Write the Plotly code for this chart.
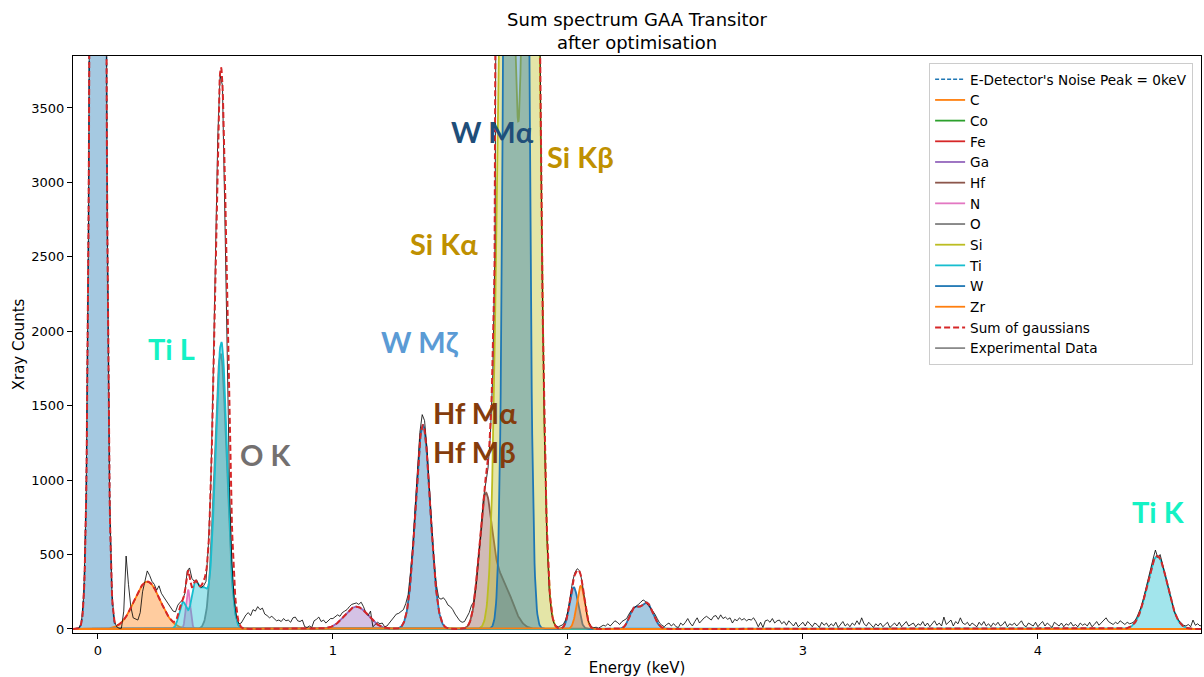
import numpy as np
import plotly.graph_objects as go

# ---------------- data ----------------
E_MIN, E_MAX = -0.106, 4.694

# experimental spectrum: channel energies -0.10 .. 4.70 keV, 0.01 keV step
exp_start = -0.10
exp_step = 0.01
exp_counts = [
    2, 4, 8, 45, 230, 880, 2700, 6500, 12100, 17600,
    20000, 17600, 12100, 6500, 2700, 880, 230, 50, 15, 5,
    5, 120, 490, 300, 150, 75, 65, 60, 110, 250,
    320, 390, 360, 320, 300, 260, 290, 240, 215, 190,
    165, 140, 120, 115, 160, 180, 195, 240, 390, 410,
    340, 320, 330, 290, 280, 290, 320, 560, 950, 1650,
    2500, 3300, 3720, 3650, 2800, 1800, 950, 450, 200, 80,
    35, 40, 70, 95, 110, 90, 130, 120, 150, 130,
    140, 100, 90, 75, 85, 70, 55, 60, 50, 70,
    55, 60, 45, 75, 80, 55, 50, 60, 15, 10,
    20, 10, 55, 65, 80, 50, 60, 40, 55, 70,
    70, 80, 95, 85, 110, 120, 130, 150, 165, 170,
    175, 165, 180, 150, 110, 90, 120, 15, 30, 45,
    35, 40, 15, 20, 40, 60, 85, 100, 105, 115,
    130, 170, 230, 380, 560, 820, 1100, 1320, 1440, 1400,
    1220, 960, 700, 460, 300, 210, 200, 210, 190, 160,
    150, 130, 100, 80, 55, 45, 50, 80, 110, 160,
    180, 300, 470, 650, 870, 980, 1080, 1300, 1700, 2600,
    4200, 6400, 9500, 13000, 19000, 26000, 33000, 38000, 41000, 40000,
    33000, 25000, 19000, 14500, 11800, 9900, 8000, 6000, 4050, 2450,
    1300, 640, 270, 110, 40, 20, 15, 20, 30, 60,
    120, 220, 320, 380, 405, 390, 320, 210, 100, 40,
    15, 8, 12, 5, 15, 25, 20, 35, 20, 40,
    55, 45, 30, 50, 60, 70, 100, 125, 140, 150,
    165, 180, 195, 185, 160, 145, 125, 100, 70, 40,
    25, 15, 30, 40, 20, 35, 15, 10, 40, 25,
    45, 70, 40, 20, 50, 75, 40, 60, 75, 85,
    70, 60, 85, 90, 65, 95, 70, 80, 65, 75,
    40, 65, 55, 75, 60, 70, 55, 65, 60, 75,
    50, 15, 45, 10, 55, 60, 45, 70, 40, 55,
    60, 35, 50, 25, 55, 40, 20, 45, 15, 30,
    45, 20, 50, 35, 15, 40, 30, 10, 45, 25,
    40, 15, 35, 20, 45, 10, 30, 50, 20, 35,
    15, 40, 25, 55, 30, 75, 35, 20, 45, 25,
    10, 35, 20, 40, 15, 30, 45, 10, 25, 40,
    20, 45, 15, 35, 50, 20, 30, 40, 15, 35,
    25, 50, 20, 40, 15, 35, 55, 25, 40, 20,
    80, 30, 45, 60, 20, 50, 35, 75, 40, 30,
    45, 20, 40, 30, 15, 45, 25, 50, 20, 35,
    15, 40, 25, 45, 20, 30, 50, 15, 35, 25,
    40, 20, 35, 55, 25, 15, 40, 30, 20, 45,
    15, 35, 50, 20, 40, 25, 10, 45, 30, 20,
    40, 15, 35, 25, 45, 20, 30, 15, 40, 25,
    35, 20, 45, 15, 30, 50, 25, 40, 60, 75,
    50, 40, 30, 45, 35, 55, 40, 30, 45, 35,
    40, 50, 75, 110, 150, 210, 280, 350, 410, 470,
    530, 480, 500, 440, 380, 310, 240, 180, 120, 80,
    55, 40, 25, 20, 30, 15, 60, 25, 35, 20,
    30,
]

# fitted gaussian lines: (centre keV, amplitude counts, sigma keV)
noise_centers = [0.0]
noise_amps = [20000]
noise_sigmas = [0.02]

element_names = ["C", "Co", "Fe", "Ga", "Hf", "N", "O", "Si", "Ti", "W", "Zr"]
element_centers = {
    "C": [0.21], "Co": [], "Fe": [], "Ga": [1.10],
    "Hf": [1.648, 1.715], "N": [0.384], "O": [0.522],
    "Si": [1.738, 1.843],
    "Ti": [0.362, 0.413, 0.450, 0.525, 4.508],
    "W": [1.383, 1.780, 2.025, 2.280, 2.335],
    "Zr": [2.055],
}
element_amps = {
    "C": [318], "Co": [], "Fe": [], "Ga": [150],
    "Hf": [800, 330], "N": [265], "O": [1850],
    "Si": [7400, 8400],
    "Ti": [180, 295, 240, 1930, 490],
    "W": [1370, 40000, 280, 120, 175],
    "Zr": [290],
}
element_sigmas = {
    "C": [0.055], "Co": [], "Fe": [], "Ga": [0.05],
    "Hf": [0.027, 0.045], "N": [0.009], "O": [0.026],
    "Si": [0.030, 0.030],
    "Ti": [0.016, 0.016, 0.017, 0.025, 0.043],
    "W": [0.031, 0.026, 0.018, 0.020, 0.027],
    "Zr": [0.017],
}

labels = [
    ("Ti L", 0.315, 1887, "#14F2C4"),
    ("O K", 0.715, 1169, "#737070"),
    ("W Mζ", 1.370, 1934, "#5B9BD5"),
    ("W Mα", 1.677, 3345, "#1F4E79"),
    ("Si Kα", 1.472, 2592, "#BF9000"),
    ("Si Kβ", 2.055, 3177, "#BF9000"),
    ("Hf Mα", 1.604, 1451, "#843C0C"),
    ("Hf Mβ", 1.604, 1189, "#843C0C"),
    ("Ti K", 4.515, 792, "#14F2C4"),
]

# ---------------- styles ----------------
colors = {
    "noise": "#1f77b4", "C": "#ff7f0e", "Co": "#2ca02c", "Fe": "#d62728",
    "Ga": "#9467bd", "Hf": "#8c564b", "N": "#e377c2", "O": "#7f7f7f",
    "Si": "#bcbd22", "Ti": "#17becf", "W": "#1f77b4", "Zr": "#ff7f0e",
}


def rgba(hexc, a):
    h = hexc.lstrip("#")
    r, g, b = int(h[0:2], 16), int(h[2:4], 16), int(h[4:6], 16)
    return f"rgba({r},{g},{b},{a})"


x_fit = np.linspace(E_MIN, E_MAX, 2401)


def gauss_sum(centers, amps, sigmas):
    y = np.zeros_like(x_fit)
    for c, a, s in zip(centers, amps, sigmas):
        y += a * np.exp(-((x_fit - c) ** 2) / (2 * s ** 2))
    return y


fig = go.Figure()


def add_component(y, name, color, dash=None, width=1.8):
    fig.add_trace(go.Scatter(
        x=x_fit, y=y, mode="lines", line=dict(width=0, color=color),
        fill="tozeroy", fillcolor=rgba(color, 0.4),
        showlegend=False, hoverinfo="skip"))
    fig.add_trace(go.Scatter(
        x=x_fit, y=y, mode="lines", name=name,
        line=dict(color=color, width=width, dash=dash)))


noise_y = gauss_sum(noise_centers, noise_amps, noise_sigmas)
total = noise_y.copy()
add_component(noise_y, "E-Detector's Noise Peak = 0keV", colors["noise"],
              dash="4px,2px", width=1.6)

for el in element_names:
    y = gauss_sum(element_centers[el], element_amps[el], element_sigmas[el])
    total += y
    add_component(y, el, colors[el])

exp_energy = np.round(exp_start + exp_step * np.arange(len(exp_counts)), 2)
fig.add_trace(go.Scatter(
    x=exp_energy, y=exp_counts, mode="lines", name="Experimental Data",
    line=dict(color="rgba(0,0,0,0.9)", width=0.9), showlegend=False))

fig.add_trace(go.Scatter(
    x=x_fit, y=total, mode="lines", name="Sum of gaussians",
    line=dict(color="#d62728", width=2, dash="6px,3px")))

fig.add_trace(go.Scatter(
    x=[None], y=[None], mode="lines", name="Experimental Data",
    line=dict(color="#8a8a8a", width=1.8)))

for text, ex, ey, col in labels:
    fig.add_annotation(
        x=ex, y=ey, text=f"<b>{text}</b>", showarrow=False,
        xanchor="center", yanchor="middle",
        font=dict(family="Lato, Open Sans, sans-serif", size=29, color=col))

axis_common = dict(
    showline=True, mirror=True, linecolor="black", linewidth=1,
    ticks="outside", ticklen=5, tickcolor="black", tickwidth=1,
    showgrid=False, zeroline=False,
    tickfont=dict(family="DejaVu Sans", size=13, color="black"),
)

fig.update_layout(
    width=1204, height=677,
    margin=dict(l=73, r=3, t=56, b=44),
    plot_bgcolor="white", paper_bgcolor="white",
    font=dict(family="DejaVu Sans", size=13, color="black"),
    title=dict(text="Sum spectrum GAA Transitor<br>after optimisation",
               x=0.5, xref="paper", xanchor="center",
               y=0.962, yref="container", yanchor="top",
               font=dict(family="DejaVu Sans", size=18, color="black")),
    xaxis=dict(range=[E_MIN, E_MAX], tickvals=[0, 1, 2, 3, 4],
               title=dict(text="Energy (keV)", standoff=5,
                          font=dict(family="DejaVu Sans", size=15)),
               **axis_common),
    yaxis=dict(range=[-27, 3849], tickvals=[0, 500, 1000, 1500, 2000, 2500, 3000, 3500],
               title=dict(text="Xray Counts", standoff=3,
                          font=dict(family="DejaVu Sans", size=15)),
               **axis_common),
    legend=dict(x=0.993, y=0.988, xanchor="right", yanchor="top",
                bordercolor="#cccccc", borderwidth=1,
                bgcolor="rgba(255,255,255,0.8)",
                font=dict(family="DejaVu Sans", size=13.6, color="black"),
                itemwidth=30, tracegroupgap=0),
    showlegend=True,
)

fig.write_html("out.html", config={"displayModeBar": False},
               post_script="document.body.style.margin='0px';document.body.style.padding='0px';")
